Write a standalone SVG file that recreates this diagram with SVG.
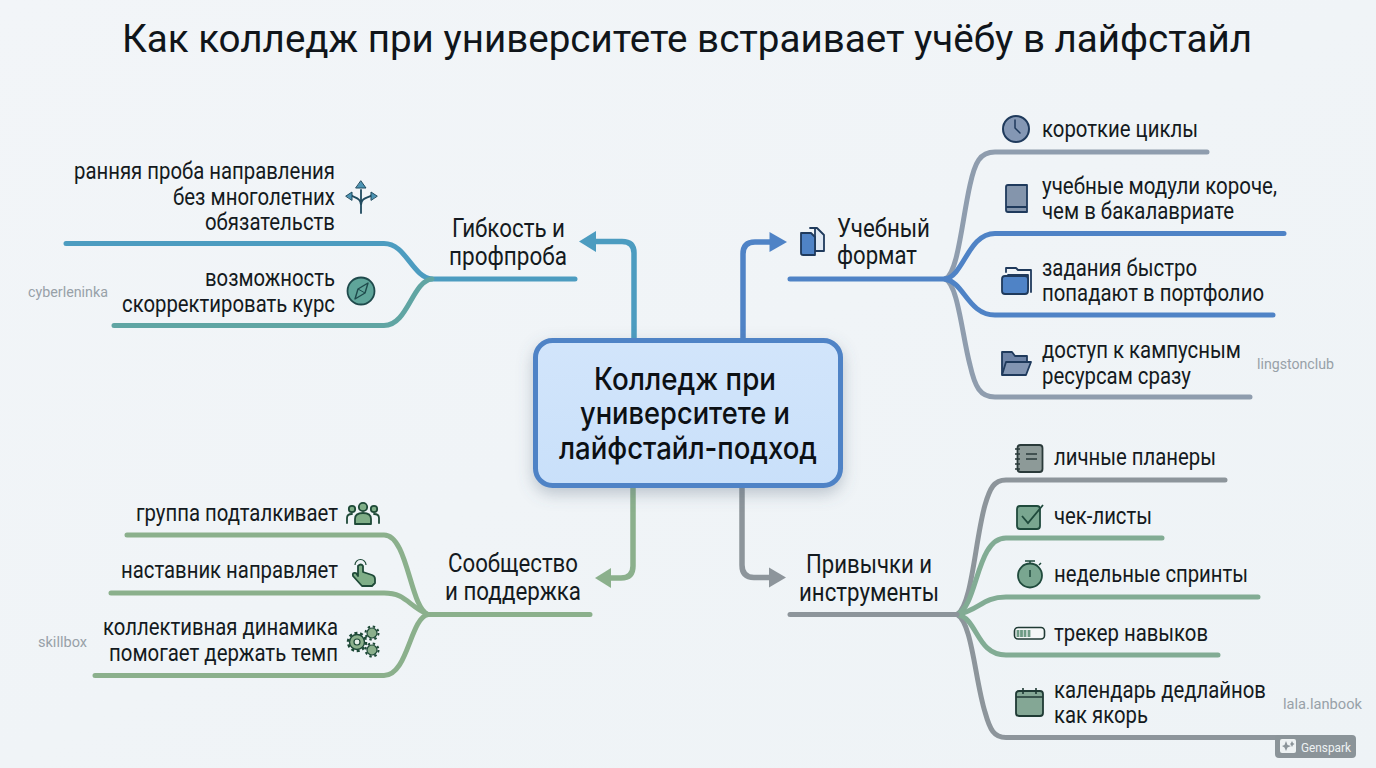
<svg xmlns="http://www.w3.org/2000/svg" width="1376" height="768" viewBox="0 0 1376 768">
<style>
text{font-family:Roboto,"Noto Sans",sans-serif;fill:#141a20}
.t{font-size:23px}
.h{font-size:25px}
.s{font-size:15.500px;fill:#98a1a8}
.c{font-size:31px;font-weight:550;fill:#0c1014;font-family:Inter,Roboto,sans-serif}
.l{fill:none;stroke-width:5;stroke-linecap:round}
.a{fill:none;stroke-width:5.500}
.i{stroke-width:1.800;stroke-linejoin:round;stroke-linecap:round}
</style>
<defs>
<linearGradient id="bg" x1="0" y1="0" x2="1" y2="1"><stop offset="0" stop-color="#f2f5f8"/><stop offset="1" stop-color="#eef3f6"/></linearGradient>
<linearGradient id="box" x1="0" y1="0" x2="0" y2="1"><stop offset="0" stop-color="#d2e5fb"/><stop offset="1" stop-color="#c9e0fa"/></linearGradient>
<filter id="sh" x="-15%" y="-20%" width="130%" height="145%"><feDropShadow dx="0" dy="6" stdDeviation="8" flood-color="#5a6b80" flood-opacity=".35"/></filter>
</defs>
<rect width="1376" height="768" fill="url(#bg)"/>
<text id="title" x="122" y="52" font-size="38.500" textLength="1130" lengthAdjust="spacingAndGlyphs" style="fill:#10151a">Как колледж при университете встраивает учёбу в лайфстайл</text>

<g id="connectors">
<g stroke="#4c9cc0">
<path class="a" d="M634 340V253Q634 241.500 622 241.500H592"/>
<path class="l" d="M575 279H432C412 277 406 243.500 384 243.500H66"/>
</g>
<path d="M579 241.500L596 231V252Z" fill="#4c9cc0"/>
<path class="l" stroke="#60a5a3" d="M432 279C412 281 408 325.500 384 325.500H114"/>
<path class="a" stroke="#4f83c6" d="M743 340V254Q743 242 755 242H772"/>
<path d="M787 242L769.500 232V252Z" fill="#4f83c6"/>
<path class="l" stroke="#8f9dae" d="M945 279C958 274 962 220 970 185C975 162 980 152 995 152H1207"/>
<path class="l" stroke="#8f9dae" d="M945 279C958 284 962 335 970 365C975 387 980 397 995 397H1250"/>
<path class="l" stroke="#4f83c6" d="M790 279H945C964 276 968 233.500 995 233.500H1284"/>
<path class="l" stroke="#4f83c6" d="M945 279C964 282 968 315 995 315H1273"/>
<path class="a" stroke="#8bb08c" d="M633 488V566Q633 578 621 578H608"/>
<path d="M595 578L611 568V588Z" fill="#8bb08c"/>
<path class="l" stroke="#8bb08c" d="M590 614.500H428C410 608 408 535 384 535H127"/>
<path class="l" stroke="#8bb08c" d="M428 614.500C408 606 406 593 384 593H111"/>
<path class="l" stroke="#8bb08c" d="M428 614.500C410 618 408 675.500 384 675.500H95"/>
<path class="a" stroke="#8d959b" d="M742 488V565Q742 577.500 754 577.500H772"/>
<path d="M786 577.500L769 567.500V587.500Z" fill="#8d959b"/>
<path class="l" stroke="#8d959b" d="M957 614.500C972 606 975 540 985 505C990 488 994 480 1006 480H1225"/>
<path class="l" stroke="#8d959b" d="M957 614.500C972 622 975 680 985 712C990 730 994 737.500 1006 737.500H1280"/>
<path class="l" stroke="#82ac94" d="M957 614.500C978 606 976 538 1006 538H1162"/>
<path class="l" stroke="#82ac94" d="M957 614.500C980 610 982 597 1006 597H1258"/>
<path class="l" stroke="#82ac94" d="M957 614.500C978 618 976 655 1006 655H1218"/>
<path class="l" stroke="#8d959b" d="M790 614.500H957"/>
</g>

<g id="center">
<rect x="535.500" y="340.500" width="305" height="145" rx="17" fill="url(#box)" stroke="#4f83c6" stroke-width="5" filter="url(#sh)"/>
<text class="c" x="594" y="390" textLength="182" lengthAdjust="spacingAndGlyphs">Колледж при</text>
<text class="c" x="580" y="424" textLength="210" lengthAdjust="spacingAndGlyphs">университете и</text>
<text class="c" x="559" y="459" textLength="258" lengthAdjust="spacingAndGlyphs">лайфстайл-подход</text>
</g>

<g id="branch-flex">
<text class="h" x="452" y="237" textLength="113" lengthAdjust="spacingAndGlyphs">Гибкость и</text>
<text class="h" x="449" y="265" textLength="118" lengthAdjust="spacingAndGlyphs">профпроба</text>
</g>
<g id="item-early">
<text class="t" x="74" y="179" textLength="261" lengthAdjust="spacingAndGlyphs">ранняя проба направления</text>
<text class="t" x="173" y="205" textLength="162" lengthAdjust="spacingAndGlyphs">без многолетних</text>
<text class="t" x="205" y="230" textLength="130" lengthAdjust="spacingAndGlyphs">обязательств</text>
<g class="i" fill="#4c94b4" stroke="#1f4a5e"><path fill="none" d="M361 213V190M361 205C361 197 353 198 351 195M361 205C361 197 369 198 372 195"/><path d="M361 181L366 188H356ZM346 196L352 192V200ZM377 196L371 192V200Z" stroke-width="1"/></g>
</g>
<g id="item-correct">
<text class="t" x="205" y="286" textLength="130" lengthAdjust="spacingAndGlyphs">возможность</text>
<text class="t" x="122" y="312" textLength="213" lengthAdjust="spacingAndGlyphs">скорректировать курс</text>
<circle cx="361" cy="291" r="13.500" fill="#5fa59a" stroke="#1f4a4c" stroke-width="1.800"/>
<path d="M368 283L365 293L355 299L358 289Z" fill="none" stroke="#1f4a4c" stroke-width="1.400" stroke-linejoin="round"/>
<path d="M358 289L365 293" stroke="#1f4a4c" stroke-width="1"/>
</g>
<text id="src-cyberleninka" class="s" x="28" y="297" textLength="80" lengthAdjust="spacingAndGlyphs">cyberleninka</text>

<g id="branch-format">
<text class="h" x="837" y="237" textLength="93" lengthAdjust="spacingAndGlyphs">Учебный</text>
<text class="h" x="837" y="264" textLength="80" lengthAdjust="spacingAndGlyphs">формат</text>
<g class="i" stroke="#1f3a5c"><path fill="#dfe8f3" d="M810 228H817L824 235V251H815V228Z"/><path fill="#4f83c6" d="M801 233H811L815 237V255H803Q801 255 801 253Z"/></g>
</g>
<g id="item-cycles">
<text class="t" x="1042" y="137" textLength="156" lengthAdjust="spacingAndGlyphs">короткие циклы</text>
<circle cx="1016" cy="129" r="13" fill="#8497b4" stroke="#1f3a5c" stroke-width="2"/>
<path d="M1015 120V128L1020 133" fill="none" stroke="#1f3a5c" stroke-width="1.500" stroke-linecap="round"/>
</g>
<g id="item-modules">
<text class="t" x="1042" y="194" textLength="235" lengthAdjust="spacingAndGlyphs">учебные модули короче,</text>
<text class="t" x="1042" y="219" textLength="192" lengthAdjust="spacingAndGlyphs">чем в бакалавриате</text>
<path class="i" fill="#8495ac" stroke="#1f3a5c" d="M1008 185H1027V212H1008Q1006 212 1006 210V187Q1006 185 1008 185ZM1006 207H1027"/>
</g>
<g id="item-tasks">
<text class="t" x="1042" y="276" textLength="155" lengthAdjust="spacingAndGlyphs">задания быстро</text>
<text class="t" x="1042" y="301" textLength="222" lengthAdjust="spacingAndGlyphs">попадают в портфолио</text>
<g class="i" fill="none" stroke="#1f3a5c"><path d="M1006 272V268H1016L1018 270H1031V292"/><path d="M1008 275H1028V289"/></g>
<rect x="1002" y="276" width="26" height="18" rx="3" fill="#4f83c6" stroke="#1f3a5c" stroke-width="1.800"/>
</g>
<g id="item-campus">
<text class="t" x="1042" y="358" textLength="199" lengthAdjust="spacingAndGlyphs">доступ к кампусным</text>
<text class="t" x="1042" y="384" textLength="149" lengthAdjust="spacingAndGlyphs">ресурсам сразу</text>
<path class="i" fill="#6d83a6" stroke="#1f3a5c" d="M1002 374V352H1012L1015 356H1027V362"/>
<path class="i" fill="#8295b2" stroke="#1f3a5c" d="M1006 362H1031L1026 375H1002Z"/>
</g>
<text id="src-lingstonclub" class="s" x="1257" y="369" textLength="77" lengthAdjust="spacingAndGlyphs">lingstonclub</text>

<g id="branch-community">
<text class="h" x="448" y="572" textLength="130" lengthAdjust="spacingAndGlyphs">Сообщество</text>
<text class="h" x="445" y="600" textLength="136" lengthAdjust="spacingAndGlyphs">и поддержка</text>
</g>
<g id="item-group">
<text class="t" x="136" y="521" textLength="202" lengthAdjust="spacingAndGlyphs">группа подталкивает</text>
<g class="i" fill="#7fae87" stroke="#1f4a38" stroke-width="1.300"><circle cx="363" cy="507" r="4.200"/><circle cx="352" cy="509" r="3.200"/><circle cx="374" cy="509" r="3.200"/><path d="M355 524V519Q355 513 363 513Q371 513 371 519V524Z"/><path d="M347 523V518Q347 514 352 514M379 523V518Q379 514 374 514" fill="none"/></g>
</g>
<g id="item-mentor">
<text class="t" x="121" y="578" textLength="217" lengthAdjust="spacingAndGlyphs">наставник направляет</text>
<path class="i" fill="#7fae87" stroke="#1f4a38" stroke-width="1.400" d="M358 566Q361 563 363 566V572L372 575Q375 576 375 579V583L372 586H362L353 576Q352 572 356 573L358 576Z"/>
<path d="M355 565A5.500 5.500 0 0 1 366 565" fill="none" stroke="#1f4a38" stroke-width="1.200"/>
</g>
<g id="item-dynamics">
<text class="t" x="103" y="635" textLength="235" lengthAdjust="spacingAndGlyphs">коллективная динамика</text>
<text class="t" x="109" y="661" textLength="229" lengthAdjust="spacingAndGlyphs">помогает держать темп</text>
<g fill="#8bb08c" stroke="#1f4a38"><circle cx="357" cy="642" r="7.500" stroke-width="1.400"/><circle cx="357" cy="642" r="9" fill="none" stroke-width="2.500" stroke-dasharray="3 2.650"/><circle cx="357" cy="642" r="3" fill="#e8f0ea" stroke-width="1.200"/><circle cx="372" cy="633" r="5" stroke-width="1.200"/><circle cx="372" cy="633" r="6.500" fill="none" stroke-width="2" stroke-dasharray="2.400 2.700"/><circle cx="372" cy="650" r="5" stroke-width="1.200"/><circle cx="372" cy="650" r="6.500" fill="none" stroke-width="2" stroke-dasharray="2.400 2.700"/></g>
</g>
<text id="src-skillbox" class="s" x="38" y="647" textLength="49" lengthAdjust="spacingAndGlyphs">skillbox</text>

<g id="branch-habits">
<text class="h" x="806" y="573" textLength="126" lengthAdjust="spacingAndGlyphs">Привычки и</text>
<text class="h" x="799" y="601" textLength="140" lengthAdjust="spacingAndGlyphs">инструменты</text>
</g>
<g id="item-planners">
<text class="t" x="1054" y="465" textLength="162" lengthAdjust="spacingAndGlyphs">личные планеры</text>
<rect x="1017.500" y="445" width="25" height="27" rx="3" fill="#8d9a98" stroke="#2a3a3a" stroke-width="1.800"/>
<path d="M1026 454H1037M1026 459H1037" stroke="#2a3a3a" stroke-width="1.500"/>
<path d="M1015 449H1020M1015 454H1020M1015 459H1020M1015 464H1020M1015 469H1020" stroke="#2a3a3a" stroke-width="1.300"/>
</g>
<g id="item-checklists">
<text class="t" x="1054" y="524" textLength="98" lengthAdjust="spacingAndGlyphs">чек-листы</text>
<rect x="1017" y="506" width="23" height="23" rx="3" fill="#79a690" stroke="#1f4a3c" stroke-width="1.800"/>
<path d="M1022 516L1028 523L1043 505" fill="none" stroke="#1f4a3c" stroke-width="1.800"/>
</g>
<g id="item-sprints">
<text class="t" x="1054" y="582" textLength="194" lengthAdjust="spacingAndGlyphs">недельные спринты</text>
<circle cx="1030" cy="575.500" r="12" fill="#79a690" stroke="#1f4a3c" stroke-width="1.800"/>
<path d="M1025 561H1035M1030 561V563M1039 565L1041 563M1030 570V577" fill="none" stroke="#1f4a3c" stroke-width="1.500"/>
</g>
<g id="item-tracker">
<text class="t" x="1054" y="641" textLength="154" lengthAdjust="spacingAndGlyphs">трекер навыков</text>
<rect x="1014.500" y="627.500" width="30" height="11.500" rx="3.500" fill="#f4f7f7" stroke="#1f3a34" stroke-width="1.600"/>
<path d="M1018 630V637M1021.500 630V637M1025 630V637M1029 630V637" stroke="#6d9a84" stroke-width="2.800"/>
</g>
<g id="item-calendar">
<text class="t" x="1054" y="698" textLength="212" lengthAdjust="spacingAndGlyphs">календарь дедлайнов</text>
<text class="t" x="1054" y="723" textLength="94" lengthAdjust="spacingAndGlyphs">как якорь</text>
<rect x="1016" y="691" width="27" height="25" rx="3" fill="#84a795" stroke="#1f3a34" stroke-width="1.800"/>
<path d="M1016 697H1043M1023 688V694M1036 688V694" stroke="#1f3a34" stroke-width="1.600"/>
</g>
<text id="src-lanbook" class="s" x="1283" y="709" textLength="79" lengthAdjust="spacingAndGlyphs">lala.lanbook</text>

<g id="badge">
<rect x="1275" y="735" width="81" height="23" rx="4" fill="#8b9499"/>
<rect x="1280" y="739" width="16" height="14" rx="2" fill="#eef2f3"/>
<path d="M1286 741L1287.500 745L1291 746L1287.500 747.500L1286 751L1284.500 747.500L1282 746L1284.500 745ZM1292 741L1293 743L1294.500 744L1293 745L1292 747L1291 745L1290 744L1291 743Z" fill="#8b9499"/>
<text x="1301" y="752" font-size="12.500" textLength="50" lengthAdjust="spacingAndGlyphs" style="fill:#eef2f3">Genspark</text>
</g>
</svg>
